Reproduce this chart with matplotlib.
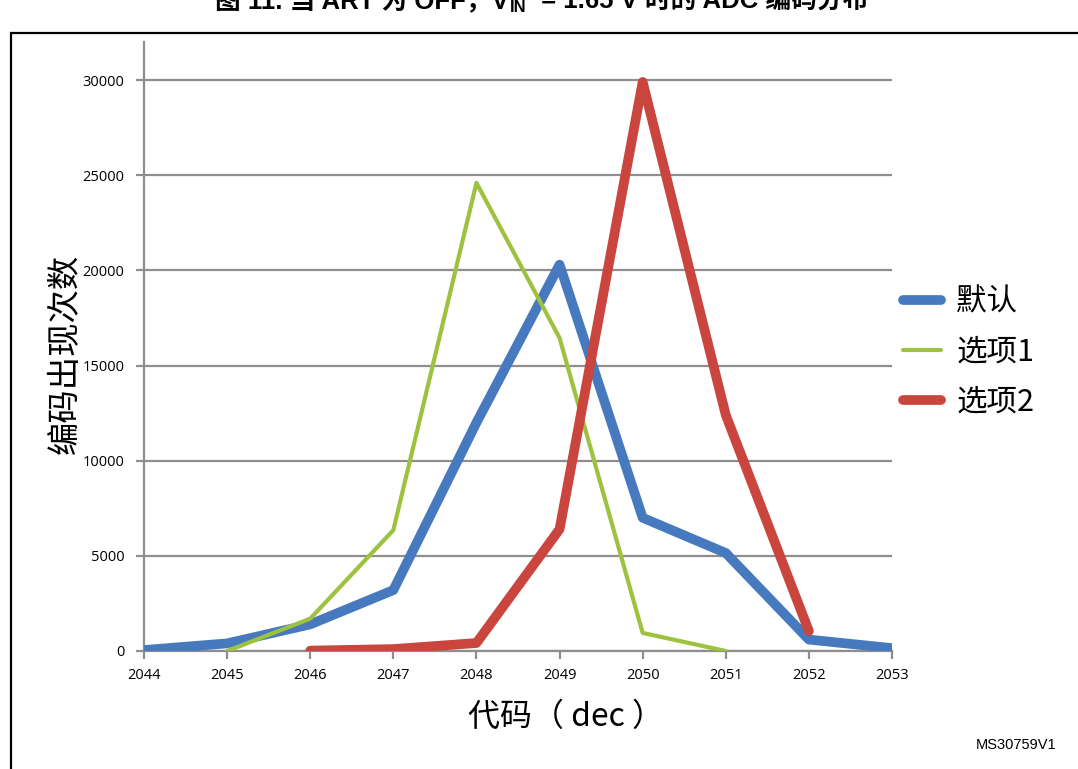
import matplotlib
matplotlib.use("Agg")
import matplotlib.pyplot as plt
from matplotlib.patches import Rectangle

plt.rcParams['font.family'] = ['Noto Sans CJK SC', 'DejaVu Sans']

# === DATOS ===
codes = [2044, 2045, 2046, 2047, 2048, 2049, 2050, 2051, 2052, 2053]

default_x = [2044, 2045, 2046, 2047, 2048, 2049, 2050, 2051, 2052, 2053]
default_y = [50, 400, 1400, 3200, 12000, 20300, 7000, 5150, 600, 150]

opt1_x = [2045, 2046, 2047, 2048, 2049, 2050, 2051]
opt1_y = [0, 1700, 6350, 24600, 16450, 950, 0]

opt2_x = [2046, 2047, 2048, 2049, 2050, 2051, 2052]
opt2_y = [20, 100, 420, 6400, 29900, 12400, 1050]

yticks = [0, 5000, 10000, 15000, 20000, 25000, 30000]
labels = ["默认", "选项1", "选项2"]

BLUE = "#4679BD"
GREEN = "#9CC23F"
RED = "#C9453D"
GRAY = "#8E8E8E"

fig = plt.figure(figsize=(10.78, 7.69), dpi=100)
ax = fig.add_axes([144 / 1078, 1 - 651 / 769, (892 - 144) / 1078, (651 - 42) / 769])

# líneas de cuadrícula
for v in yticks:
    ax.axhline(v, color=GRAY, linewidth=1.6, zorder=1)

ax.plot(default_x, default_y, color=BLUE, linewidth=7, solid_capstyle='round',
        solid_joinstyle='round', label=labels[0], zorder=3)
ax.plot(opt1_x, opt1_y, color=GREEN, linewidth=3, solid_capstyle='round',
        solid_joinstyle='round', label=labels[1], zorder=4)
ax.plot(opt2_x, opt2_y, color=RED, linewidth=7, solid_capstyle='round',
        solid_joinstyle='round', label=labels[2], zorder=5)

ax.set_xlim(2044, 2053)
ax.set_ylim(0, 32000)
ax.set_xticks(codes)
ax.set_yticks(yticks)
ax.set_xticklabels([str(c) for c in codes], fontfamily='Open Sans', fontsize=10.5)
ax.set_yticklabels([str(v) for v in yticks], fontfamily='Open Sans', fontsize=10.5)
ax.tick_params(axis='both', color=GRAY, width=1.6, length=6, direction='out')
ax.tick_params(axis='x', pad=6)
ax.tick_params(axis='y', pad=8)

for s in ['top', 'right']:
    ax.spines[s].set_visible(False)
for s in ['left', 'bottom']:
    ax.spines[s].set_color(GRAY)
    ax.spines[s].set_linewidth(1.6)

fig.text(468 / 1078, 1 - 717 / 769, "代码（ dec ）", fontsize=23, ha='left', va='center')
fig.text(65 / 1078, 1 - 354 / 769, "编码出现次数", fontsize=24, ha='center', va='center',
         rotation=90)

leg = ax.legend(loc='center left', bbox_to_anchor=(903 / 1078, 1 - 352 / 769),
                bbox_transform=fig.transFigure, frameon=False, fontsize=22,
                handlelength=1.25, handletextpad=0.5, labelspacing=0.62,
                borderpad=0, borderaxespad=0)

# marco de la figura
fig.patches.append(Rectangle((11 / 1078, -0.1), 2, (1 - 33 / 769) + 0.1,
                             transform=fig.transFigure, fill=False,
                             edgecolor='black', linewidth=1.6))

# título (recortado arriba)
tfam = ['Liberation Sans', 'Noto Sans CJK SC']
fig.text(509 / 1078, 1 - 9 / 769, "图 11. 当 ART 为 OFF，V", fontsize=18.5, fontweight='bold',
         family=tfam, ha='right', va='baseline')
fig.text(510 / 1078, 1 - 12 / 769, "IN", fontsize=12, fontweight='bold',
         family=tfam, ha='left', va='baseline')
fig.text(534 / 1078, 1 - 9 / 769, " = 1.65 V 时的 ADC 编码分布", fontsize=18.5, fontweight='bold',
         family=tfam, ha='left', va='baseline')

fig.text(1016 / 1078, 1 - 745 / 769, "MS30759V1", fontfamily='Liberation Sans',
         fontsize=10.5, ha='center', va='center')

fig.savefig("out.png", dpi=100)
